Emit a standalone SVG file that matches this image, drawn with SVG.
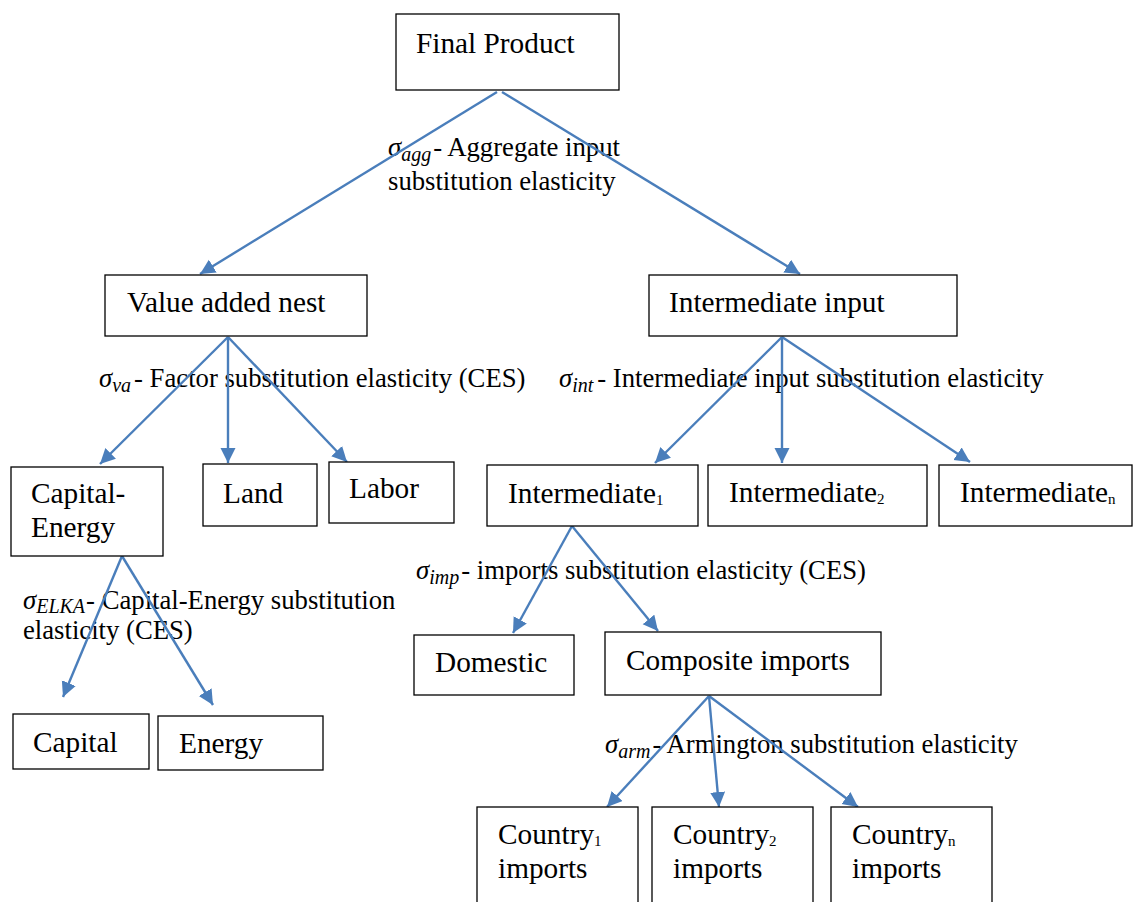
<svg xmlns="http://www.w3.org/2000/svg" width="1133" height="902" viewBox="0 0 1133 902">
  <style>
    .box { fill: #ffffff; stroke: #000000; stroke-width: 1.3; }
    .node-text { font-family: "Liberation Serif", "Times New Roman", serif; font-size: 29.3px; fill: #000000; }
    .sub { font-size: 15px; }
    .label { font-family: "Liberation Serif", "Times New Roman", serif; font-size: 26.7px; fill: #000000; }
    .sigma { font-style: italic; }
    .lsub { font-style: italic; font-size: 20px; }
    .edge { stroke: #4a7ebb; stroke-width: 2.4; fill: none; marker-end: url(#arrow); }
  </style>
  <defs>
    <marker id="arrow" markerUnits="userSpaceOnUse" markerWidth="17" markerHeight="17" refX="15" refY="7.5" orient="auto">
      <path d="M0,0 L15,7.5 L0,15 Z" fill="#4a7ebb"/>
    </marker>
  </defs>
  <rect x="0" y="0" width="1133" height="902" fill="#ffffff"/>

  <!-- elasticity labels -->
  <g id="labels">
    <text class="label" x="388" y="156"><tspan class="sigma">σ</tspan><tspan class="lsub" dy="5">agg</tspan><tspan dx="2" dy="-5">- Aggregate input</tspan></text>
    <text class="label" x="388" y="190">substitution elasticity</text>
    <text class="label" x="99" y="387"><tspan class="sigma">σ</tspan><tspan class="lsub" dy="5">va</tspan><tspan dx="3" dy="-5">- Factor substitution elasticity (CES)</tspan></text>
    <text class="label" x="559" y="387"><tspan class="sigma">σ</tspan><tspan class="lsub" dy="5">int</tspan><tspan dx="4" dy="-5">- Intermediate input substitution elasticity</tspan></text>
    <text class="label" x="23" y="609"><tspan class="sigma">σ</tspan><tspan class="lsub" dy="4">ELKA</tspan><tspan dx="1" dy="-4">- Capital-Energy substitution</tspan></text>
    <text class="label" x="23" y="639">elasticity (CES)</text>
    <text class="label" x="416" y="579"><tspan class="sigma">σ</tspan><tspan class="lsub" dy="5">imp</tspan><tspan dx="2" dy="-5">- imports substitution elasticity (CES)</tspan></text>
    <text class="label" x="605" y="753"><tspan class="sigma">σ</tspan><tspan class="lsub" dy="5">arm</tspan><tspan dx="2" dy="-5">- Armington substitution elasticity</tspan></text>
  </g>

  <!-- connectors -->
  <g id="connectors">
    <line class="edge" x1="497" y1="92" x2="200" y2="274"/>
    <line class="edge" x1="502" y1="92" x2="800" y2="274"/>
    <line class="edge" x1="228" y1="337" x2="100" y2="464"/>
    <line class="edge" x1="228" y1="337" x2="228" y2="463"/>
    <line class="edge" x1="228" y1="337" x2="347" y2="462"/>
    <line class="edge" x1="782" y1="337" x2="655" y2="463"/>
    <line class="edge" x1="782" y1="337" x2="782" y2="463"/>
    <line class="edge" x1="782" y1="337" x2="970" y2="462"/>
    <line class="edge" x1="122" y1="556" x2="63" y2="697"/>
    <line class="edge" x1="122" y1="556" x2="213" y2="705"/>
    <line class="edge" x1="572" y1="526" x2="513" y2="633"/>
    <line class="edge" x1="572" y1="526" x2="658" y2="631"/>
    <line class="edge" x1="709" y1="696" x2="607" y2="807"/>
    <line class="edge" x1="709" y1="696" x2="719" y2="807"/>
    <line class="edge" x1="709" y1="696" x2="858" y2="807"/>
  </g>

  <!-- nodes -->
  <g id="final-product">
    <rect class="box" x="396" y="14" width="223" height="76"/>
    <text class="node-text" x="416" y="53">Final Product</text>
  </g>
  <g id="value-added">
    <rect class="box" x="105" y="275" width="262" height="61"/>
    <text class="node-text" x="127" y="312">Value added nest</text>
  </g>
  <g id="intermediate-input">
    <rect class="box" x="649" y="275" width="308" height="61"/>
    <text class="node-text" x="669" y="312">Intermediate input</text>
  </g>
  <g id="capital-energy">
    <rect class="box" x="11" y="467" width="152" height="89"/>
    <text class="node-text" x="31" y="503">Capital-</text>
    <text class="node-text" x="31" y="537">Energy</text>
  </g>
  <g id="land">
    <rect class="box" x="203" y="464" width="114" height="62"/>
    <text class="node-text" x="223" y="503">Land</text>
  </g>
  <g id="labor">
    <rect class="box" x="329" y="462" width="125" height="61"/>
    <text class="node-text" x="349" y="498">Labor</text>
  </g>
  <g id="intermediate-1">
    <rect class="box" x="487" y="465" width="211" height="61"/>
    <text class="node-text" x="508" y="503">Intermediate<tspan class="sub" dy="2">1</tspan></text>
  </g>
  <g id="intermediate-2">
    <rect class="box" x="708" y="465" width="219" height="61"/>
    <text class="node-text" x="729" y="502">Intermediate<tspan class="sub" dy="2">2</tspan></text>
  </g>
  <g id="intermediate-n">
    <rect class="box" x="939" y="465" width="193" height="61"/>
    <text class="node-text" x="960" y="502">Intermediate<tspan class="sub" dy="2">n</tspan></text>
  </g>
  <g id="domestic">
    <rect class="box" x="414" y="635" width="160" height="60"/>
    <text class="node-text" x="435" y="672">Domestic</text>
  </g>
  <g id="composite-imports">
    <rect class="box" x="605" y="632" width="276" height="63"/>
    <text class="node-text" x="626" y="670">Composite imports</text>
  </g>
  <g id="capital">
    <rect class="box" x="13" y="714" width="136" height="55"/>
    <text class="node-text" x="33" y="752">Capital</text>
  </g>
  <g id="energy">
    <rect class="box" x="158" y="716" width="165" height="54"/>
    <text class="node-text" x="179" y="753">Energy</text>
  </g>
  <g id="country-1">
    <rect class="box" x="477" y="807" width="161" height="110"/>
    <text class="node-text" x="498" y="844">Country<tspan class="sub" dy="2">1</tspan></text>
    <text class="node-text" x="498" y="878">imports</text>
  </g>
  <g id="country-2">
    <rect class="box" x="652" y="807" width="161" height="110"/>
    <text class="node-text" x="673" y="844">Country<tspan class="sub" dy="2">2</tspan></text>
    <text class="node-text" x="673" y="878">imports</text>
  </g>
  <g id="country-n">
    <rect class="box" x="831" y="807" width="161" height="110"/>
    <text class="node-text" x="852" y="844">Country<tspan class="sub" dy="2">n</tspan></text>
    <text class="node-text" x="852" y="878">imports</text>
  </g>
</svg>
